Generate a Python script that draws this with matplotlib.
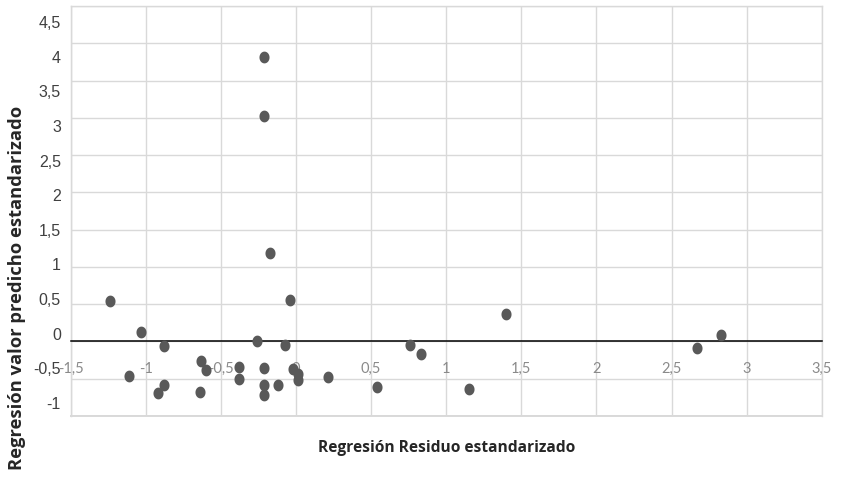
import numpy as np
import matplotlib
matplotlib.use("Agg")
import matplotlib.pyplot as plt
from matplotlib.path import Path
from matplotlib.ticker import FuncFormatter

# ---- data ----
residuo = [-1.24, -1.03, -0.88, -1.11, -0.88, -0.92,
           -0.04, -0.26, -0.07, -0.63, -0.60, -0.38, -0.38, -0.21, -0.21,
           -0.21, -0.12, -0.02, 0.01, 0.01, 0.21, -0.64,
           -0.21, -0.21, -0.17,
           0.54, 0.76, 0.83, 1.15,
           1.40, 2.67, 2.83]
predicho = [0.54, 0.13, -0.06, -0.47, -0.59, -0.69,
            0.56, 0.00, -0.05, -0.26, -0.38, -0.34, -0.50, -0.36, -0.59,
            -0.72, -0.59, -0.37, -0.43, -0.52, -0.48, -0.68,
            3.82, 3.02, 1.19,
            -0.61, -0.05, -0.17, -0.64,
            0.37, -0.09, 0.08]

x_ticks = [-1.5, -1, -0.5, 0, 0.5, 1, 1.5, 2, 2.5, 3, 3.5]
y_ticks = [-1, -0.5, 0, 0.5, 1, 1.5, 2, 2.5, 3, 3.5, 4, 4.5]
x_title = "Regresión Residuo estandarizado"
y_title = "Regresión valor predicho estandarizado"

GRID = "#d9d9d9"
DOT = "#595959"

def comma(v, pos=None):
    return f"{v:g}".replace(".", ",")

fig = plt.figure(figsize=(8.44, 4.8), dpi=100)
ax = fig.add_axes([70.7 / 844, 1 - 416 / 480, 751 / 844, 410 / 480])

ax.set_xlim(x_ticks[0], x_ticks[-1])
ax.set_ylim(y_ticks[0], y_ticks[-1])
ax.set_xticks(x_ticks)
ax.set_yticks(y_ticks)
ax.grid(True, color=GRID, linewidth=1.0, zorder=0)
ax.set_axisbelow(True)

# elliptical marker (slightly taller than wide)
t = np.linspace(0, 2 * np.pi, 60)
ell = Path(np.column_stack([np.cos(t) / 1.17, np.sin(t)]), closed=True)
ax.scatter(residuo, predicho, s=72, marker=ell, color=DOT, linewidths=0, zorder=4)

for s in ["top", "left", "right"]:
    ax.spines[s].set_color(GRID)
    ax.spines[s].set_linewidth(1.0)
ax.spines["bottom"].set_position(("data", 0))
ax.spines["bottom"].set_color("black")
ax.spines["bottom"].set_linewidth(1.1)
ax.spines["bottom"].set_zorder(3)
ax.axhline(y_ticks[0], color=GRID, linewidth=1.4, clip_on=False, zorder=0)

ax.xaxis.set_major_formatter(FuncFormatter(comma))
ax.tick_params(axis="x", length=0, pad=15, labelsize=10.5, labelcolor="#8a8a8a")
for lab in ax.get_xticklabels():
    lab.set_fontfamily("Lato")
ax.tick_params(axis="y", length=0, labelleft=False)

# y tick labels (as placed in the reference)
lo, hi = -1.188, 4.731
fwd = lambda y: lo + (np.asarray(y) - y_ticks[0]) * (hi - lo) / (y_ticks[-1] - y_ticks[0])
inv = lambda v: y_ticks[0] + (np.asarray(v) - lo) * (y_ticks[-1] - y_ticks[0]) / (hi - lo)
sec = ax.secondary_yaxis("left", functions=(fwd, inv))
sec.set_yticks(y_ticks)
sec.yaxis.set_major_formatter(FuncFormatter(comma))
sec.tick_params(axis="y", length=0, pad=7, labelsize=11.5, labelcolor="#404040")
for lab in sec.get_yticklabels():
    lab.set_fontfamily("Liberation Sans")
sec.spines["left"].set_color(GRID)

ax.set_ylabel(y_title, fontsize=13.2, fontweight="bold", color="#262626",
              fontfamily="Open Sans")
ax.yaxis.set_label_coords((26 - 70.7) / 751, (416 - 288) / 410)

ax.set_xlabel(x_title, fontsize=11.2, fontweight="bold", color="#262626",
              fontfamily="Open Sans")
ax.xaxis.set_label_coords(0.5, (416 - 440) / 410)

fig.savefig("out.png", dpi=100, facecolor="white")
